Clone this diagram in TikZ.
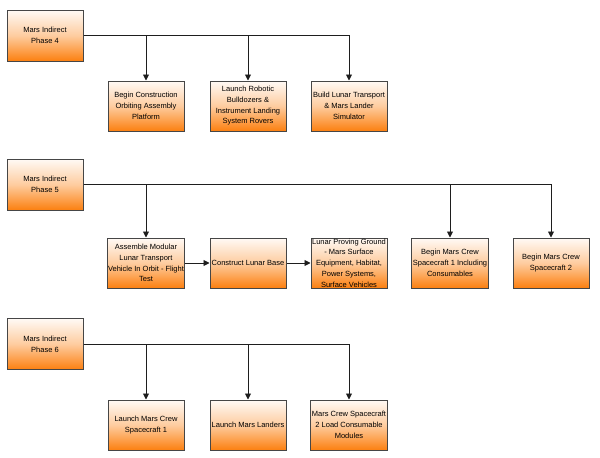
\documentclass[tikz,border=0pt]{standalone}
\usepackage{fontspec}
\setmainfont{Liberation Sans}
\usetikzlibrary{arrows.meta,positioning}
\definecolor{MarsOrange}{RGB}{252,128,16}
\definecolor{EdgeGray}{RGB}{70,70,70}
\definecolor{LinkGray}{RGB}{30,30,30}
\tikzset{
  task/.style={draw=EdgeGray,line width=1pt,minimum width=76pt,minimum height=50pt,
    inner sep=1pt,align=center,top color=MarsOrange!4,bottom color=MarsOrange,
    middle color=MarsOrange!40,font=\fontsize{7.5}{10.7}\selectfont},
  phase/.style={task,minimum height=51pt},
  link/.style={draw=LinkGray,line width=0.9pt,-{Triangle[length=6pt,width=6pt]}}
}

\begin{document}
\begin{tikzpicture}[x=1pt,y=-1pt]
  \useasboundingbox (0,0) rectangle (600,458);
  % phase 4
  \node[phase] (p4) at (45,35.5) {Mars Indirect\\Phase 4};
  \node[task] (p4a) at (146,106) {Begin Construction\\Orbiting Assembly\\Platform};
  \node[task] (p4b) at (248,106) {Launch Robotic\\Bulldozers \&\\Instrument Landing\\System Rovers};
  \node[task] (p4c) at (349,106) {Build Lunar Transport\\\& Mars Lander\\Simulator};
  \draw[link] (p4.east) -| (p4a.north);
  \draw[link] (p4.east) -| (p4b.north);
  \draw[link] (p4.east) -| (p4c.north);
  % phase 5
  \node[phase] (p5) at (45,184.5) {Mars Indirect\\Phase 5};
  \node[task] (p5a) at (146,263) {Assemble Modular\\Lunar Transport\\Vehicle In Orbit - Flight\\Test};
  \node[task] (p5b) at (248,263) {Construct Lunar Base};
  \node[task,inner sep=0pt] (p5c) at (349,263) {Lunar Proving Ground\\- Mars Surface\\Equipment, Habitat,\\Power Systems,\\Surface Vehicles};
  \node[task] (p5d) at (450,263) {Begin Mars Crew\\Spacecraft 1 Including\\Consumables};
  \node[task] (p5e) at (551,263) {Begin Mars Crew\\Spacecraft 2};
  \draw[link] (p5.east) -| (p5a.north);
  \draw[link] (p5.east) -| (p5d.north);
  \draw[link] (p5.east) -| (p5e.north);
  \draw[link] (p5a) -- (p5b);
  \draw[link] (p5b) -- (p5c);
  % phase 6
  \node[phase] (p6) at (45,344) {Mars Indirect\\Phase 6};
  \node[task] (p6a) at (146,425) {Launch Mars Crew\\Spacecraft 1};
  \node[task] (p6b) at (248,425) {Launch Mars Landers};
  \node[task] (p6c) at (349,425) {Mars Crew Spacecraft\\2 Load Consumable\\Modules};
  \draw[link] (p6.east) -| (p6a.north);
  \draw[link] (p6.east) -| (p6b.north);
  \draw[link] (p6.east) -| (p6c.north);
\end{tikzpicture}
\end{document}
